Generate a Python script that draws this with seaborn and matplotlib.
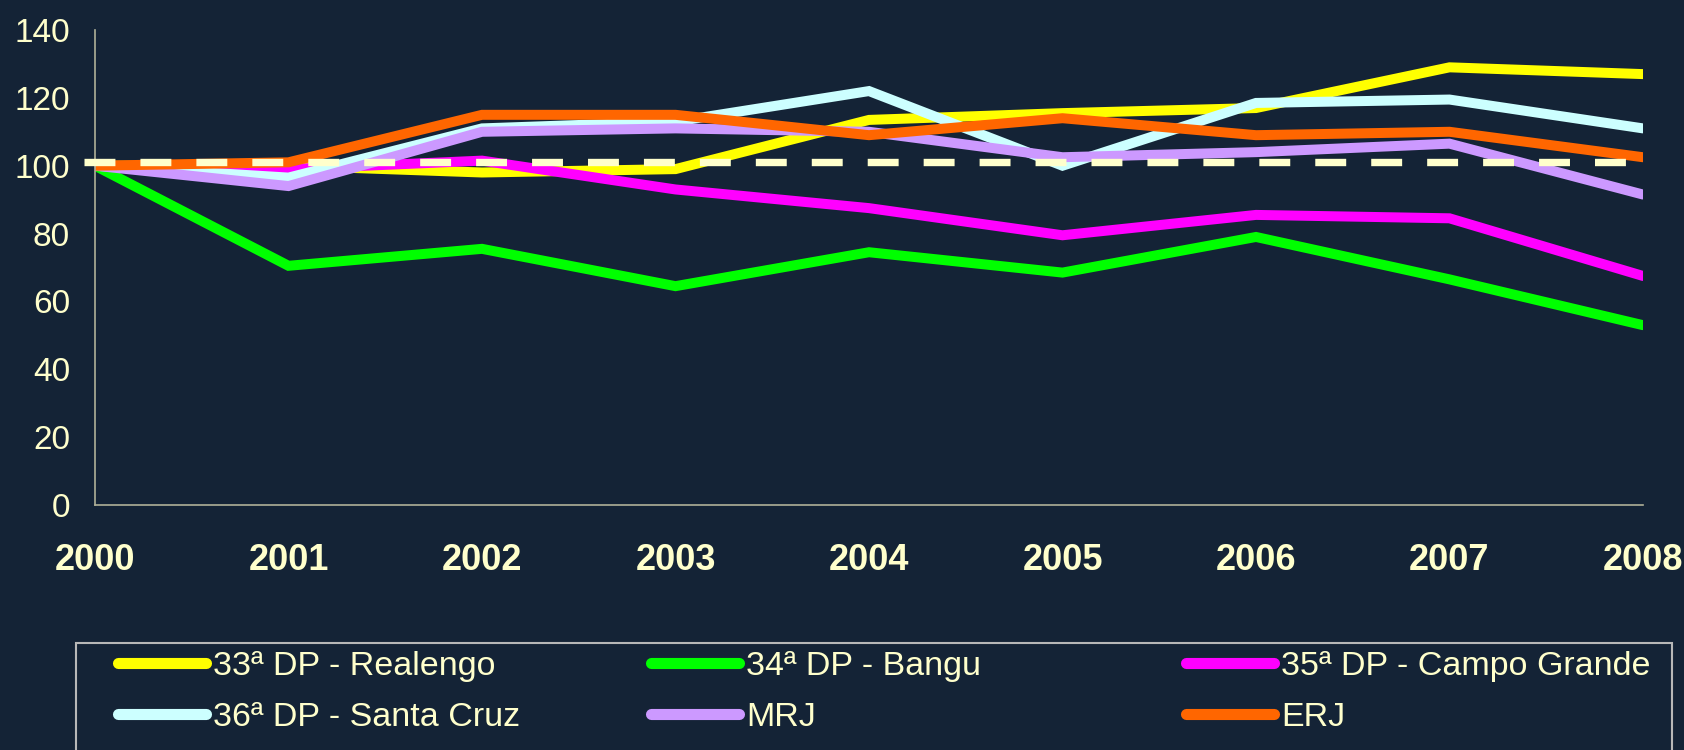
import matplotlib
matplotlib.use("Agg")
import matplotlib.pyplot as plt
from matplotlib.lines import Line2D
from matplotlib.patches import Rectangle
import seaborn as sns
import pandas as pd

# Data (index, 2000 = 100)
years = [2000, 2001, 2002, 2003, 2004, 2005, 2006, 2007, 2008]
realengo = [100, 100, 98, 99, 113.5, 115.5, 117, 129, 127]
bangu = [100, 70.5, 75.5, 64.5, 74.5, 68.5, 79, 66.5, 53]
campo_grande = [100, 99, 101.5, 93, 87.5, 79.5, 85.5, 84.5, 67.5]
santa_cruz = [100, 96.5, 111, 113, 122, 100, 118.5, 119.5, 111]
mrj = [100, 94, 110, 111, 110, 102.5, 104, 106.5, 91.5]
erj = [100, 101, 115, 115, 109, 114, 109, 110, 102.5]
ref_level = 101

series_names = ["33ª DP - Realengo", "34ª DP - Bangu", "35ª DP - Campo Grande",
                "36ª DP - Santa Cruz", "MRJ", "ERJ"]
series_values = [realengo, bangu, campo_grande, santa_cruz, mrj, erj]
colors = ["#FFFF00", "#00FF00", "#FF00FF", "#CCFFFF", "#CC99FF", "#FF6600"]

BG = "#142336"
TXT = "#FFFFCC"
AXC = "#B0B098"

rows = []
for name, vals in zip(series_names, series_values):
    for y, v in zip(years, vals):
        rows.append({"Ano": y, "Valor": v, "Serie": name})
df = pd.DataFrame(rows)

sns.set_theme(style="white")
plt.rcParams["font.family"] = ["Liberation Sans", "DejaVu Sans"]

fig = plt.figure(figsize=(16.84, 7.5), dpi=100, facecolor=BG)
ax = fig.add_axes([95 / 1684, 1 - 505 / 750, (1643 - 95) / 1684, 475 / 750])
ax.set_facecolor(BG)

sns.lineplot(data=df, x="Ano", y="Valor", hue="Serie", hue_order=series_names,
             palette=dict(zip(series_names, colors)), linewidth=7.2,
             legend=False, ax=ax, solid_joinstyle="miter")

# dashed reference line
ax.axhline(ref_level, xmin=-0.007, xmax=0.99, color=TXT, linewidth=5.3,
           dashes=(4.2, 3.4), clip_on=False, zorder=5)

ax.set_xlim(2000, 2008)
ax.set_ylim(0, 140)
ax.set_xticks(years)
ax.set_xticklabels([str(y) for y in years], fontsize=26, fontweight="bold", color=TXT)
ax.set_yticks(range(0, 141, 20))
ax.set_yticklabels([str(v) for v in range(0, 141, 20)], fontsize=24, color=TXT)
ax.tick_params(axis="y", length=7, width=1.2, color=AXC, pad=11, direction="out")
ax.tick_params(axis="x", length=7, width=1.2, color=AXC, pad=20, direction="out")
ax.set_xlabel("")
ax.set_ylabel("")
for s in ["top", "right"]:
    ax.spines[s].set_visible(False)
for s in ["left", "bottom"]:
    ax.spines[s].set_color(AXC)
    ax.spines[s].set_linewidth(1.2)

# legend frame
fig.patches.append(Rectangle((76 / 1684, -0.1), (1672 - 76) / 1684, 0.1 + 1 - 643 / 750,
                             transform=fig.transFigure, facecolor="none",
                             edgecolor="#B8B8B8", linewidth=1.5))

# legend in three equal-width columns
col_x = [118, 651, 1186]
for c in range(3):
    idx = [c, c + 3]
    handles = [Line2D([0], [0], color=colors[i], linewidth=8, solid_capstyle="round")
               for i in idx]
    labels = [series_names[i] for i in idx]
    fig.legend(handles, labels, loc="upper left",
               bbox_to_anchor=(col_x[c] / 1684, 1 - 651 / 750),
               frameon=False, fontsize=24.5, labelcolor=TXT, handlelength=2.6,
               handletextpad=0.2, labelspacing=0.58, borderpad=0, borderaxespad=0)

fig.savefig("out.png", dpi=100, facecolor=BG)
